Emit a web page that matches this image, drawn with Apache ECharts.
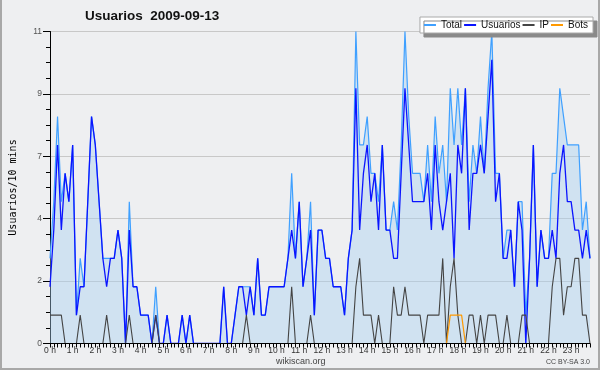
<!DOCTYPE html>
<html><head><meta charset="utf-8">
<script src="https://cdn.jsdelivr.net/npm/echarts@6/dist/echarts.min.js"></script>
<style>html,body{margin:0;padding:0;background:#eeeff1;}#c{width:600px;height:370px;}</style>
</head><body><div id="c"></div>
<script>
// tick labels
const hourLabels = ["0 h","1 h","2 h","3 h","4 h","5 h","6 h","7 h","8 h","9 h","10 h","11 h","12 h","13 h","14 h","15 h","16 h","17 h","18 h","19 h","20 h","21 h","22 h","23 h"];
const yTickLabels = ["0","2","4","7","9","11"];
// series values (per 10 minutes, 144 points)
const total = [
 3,5,8,5,6,5,7,1,3,2, 5,8,7,5,3,3,3,3,4,3, 0,5,2,2,1,1,1,0,2,0, 0,1,0,0,0,1,0,1,0,0,
 0,0,0,0,0,0,2,0,0,1, 2,2,2,2,1,3,1,1,2,2, 2,2,2,3,6,3,5,2,3,5, 1,4,4,3,3,2,2,2,1,3,
 4,11,7,7,8,6,6,5,7,4, 4,5,4,7,11,8,6,6,6,5, 7,5,8,6,7,5,9,7,9,7, 9,5,7,6,8,6,9,11,6,6,
 3,4,4,2,5,5,1,3,7,2, 4,3,3,6,6,9,8,7,7,7, 7,4,5,3];
const usuarios = [
 2,4,7,4,6,5,7,1,2,2, 5,8,7,5,3,2,3,3,4,3, 0,4,2,2,1,1,1,0,1,0, 0,1,0,0,0,1,0,1,0,0,
 0,0,0,0,0,0,2,0,0,1, 2,2,1,2,1,3,1,1,2,2, 2,2,2,3,4,3,5,2,3,4, 1,4,4,3,3,2,2,2,1,3,
 4,9,4,6,7,5,6,4,7,4, 4,3,3,6,9,7,5,5,5,5, 6,4,7,5,4,5,6,3,7,6, 9,4,6,6,7,6,8,10,5,6,
 3,3,4,2,5,4,0,3,7,2, 4,3,3,4,3,6,7,5,5,4, 4,3,4,3];
const ip = [
 1,1,1,1,0,0,0,0,1,0, 0,0,0,0,0,1,0,0,0,0, 0,1,0,0,0,0,0,0,1,0, 0,0,0,0,0,0,0,0,0,0,
 0,0,0,0,0,0,0,0,0,0, 0,0,1,0,0,0,0,0,0,0, 0,0,0,0,2,0,0,0,0,1, 0,0,0,0,0,0,0,0,0,0,
 0,2,3,1,1,1,0,1,0,0, 0,2,1,1,2,1,1,1,1,0, 1,1,1,1,3,0,2,3,1,0, 0,1,1,0,1,0,1,1,1,0,
 0,1,0,0,0,1,1,0,0,0, 0,0,0,2,3,3,1,2,2,3, 3,1,1,0];
const bots = [
 0,0,0,0,0,0,0,0,0,0, 0,0,0,0,0,0,0,0,0,0, 0,0,0,0,0,0,0,0,0,0, 0,0,0,0,0,0,0,0,0,0,
 0,0,0,0,0,0,0,0,0,0, 0,0,0,0,0,0,0,0,0,0, 0,0,0,0,0,0,0,0,0,0, 0,0,0,0,0,0,0,0,0,0,
 0,0,0,0,0,0,0,0,0,0, 0,0,0,0,0,0,0,0,0,0, 0,0,0,0,0,0,1,1,1,1, 0,0,0,0,0,0,0,0,0,0,
 0,0,0,0,0,0,0,0,0,0, 0,0,0,0,0,0,0,0,0,0, 0,0,0,0];
// categories: 10-minute slots
const times = [];
for (let h = 0; h < 24; h++) for (let m = 0; m < 60; m += 10) times.push(h + ':' + (m < 10 ? '0' + m : m));

const chart = echarts.init(document.getElementById('c'), null, {renderer: 'canvas'});
const F = 'Liberation Sans, Arial, sans-serif';
chart.setOption({
  animation: false,
  backgroundColor: '#eeeff1',
  title: {
    text: 'Usuarios  2009-09-13', left: 85, top: 9, padding: 0,
    textStyle: {fontSize: 13.5, fontWeight: 'bold', fontFamily: F, color: '#111'}
  },
  legend: {
    data: ['Total', 'Usuarios', 'IP', 'Bots'],
    right: 7, top: 17, icon: 'rect', itemWidth: 12, itemHeight: 2, itemGap: 2,
    padding: [3, 5, 3, 4], backgroundColor: '#fff', borderColor: '#aaa', borderWidth: 1,
    shadowColor: '#8a8a8a', shadowOffsetX: 4, shadowOffsetY: 4, shadowBlur: 0,
    textStyle: {fontSize: 10, fontFamily: F, color: '#111'}
  },
  grid: {left: 46.5, right: 10, top: 31.5, bottom: 26.5, containLabel: false},
  xAxis: {
    type: 'category', data: times, boundaryGap: false, z: 10,
    axisLine: {lineStyle: {color: '#000', width: 1}},
    axisTick: {interval: 0, length: 4, lineStyle: {color: '#000'}},
    axisLabel: {
      interval: 5, margin: 3, fontSize: 8.5, fontFamily: F, color: '#333',
      formatter: (v, i) => hourLabels[Math.round(i / 6)]
    },
    splitLine: {show: false}
  },
  yAxis: {
    type: 'value', min: 0, max: 11, interval: 2.2,
    name: 'Usuarios/10 mins', nameLocation: 'middle', nameGap: 32,
    nameTextStyle: {fontSize: 10, fontFamily: 'DejaVu Sans Mono, monospace', color: '#000'},
    axisLine: {show: true, lineStyle: {color: '#000'}},
    axisTick: {show: true, length: 7, lineStyle: {color: '#000'}},
    minorTick: {show: true, splitNumber: 4, length: 4, lineStyle: {color: '#000'}},
    axisLabel: {
      margin: 8, fontSize: 8.5, fontFamily: F, color: '#555',
      formatter: v => yTickLabels[Math.round(v / 2.2)]
    },
    splitLine: {show: true, lineStyle: {color: '#c8c8c8', width: 1}}
  },
  series: [
    {name: 'Total', type: 'line', data: total, symbol: 'none', color: '#3fa0ff',
     lineStyle: {width: 1.2}, areaStyle: {color: 'rgba(168,207,241,0.6)'}},
    {name: 'Usuarios', type: 'line', data: usuarios, symbol: 'none', color: '#0a14ff',
     lineStyle: {width: 1.3}},
    {name: 'IP', type: 'line', data: ip, symbol: 'none', color: '#444',
     lineStyle: {width: 1.1}},
    {name: 'Bots', type: 'line', data: bots, symbol: 'none', color: '#ff9900',
     lineStyle: {width: 1.2}}
  ],
  graphic: [
    {type: 'rect', shape: {x: 1, y: -5, width: 598, height: 374}, silent: true,
     style: {fill: null, stroke: '#a8a8a8', lineWidth: 2}},
    {type: 'text', left: 276, top: 357, silent: true,
     style: {text: 'wikiscan.org', font: '9px ' + F, fill: '#444'}},
    {type: 'text', right: 10, top: 359, silent: true,
     style: {text: 'CC BY-SA 3.0', font: '7px ' + F, fill: '#444'}}
  ]
});
</script>
</body></html>
